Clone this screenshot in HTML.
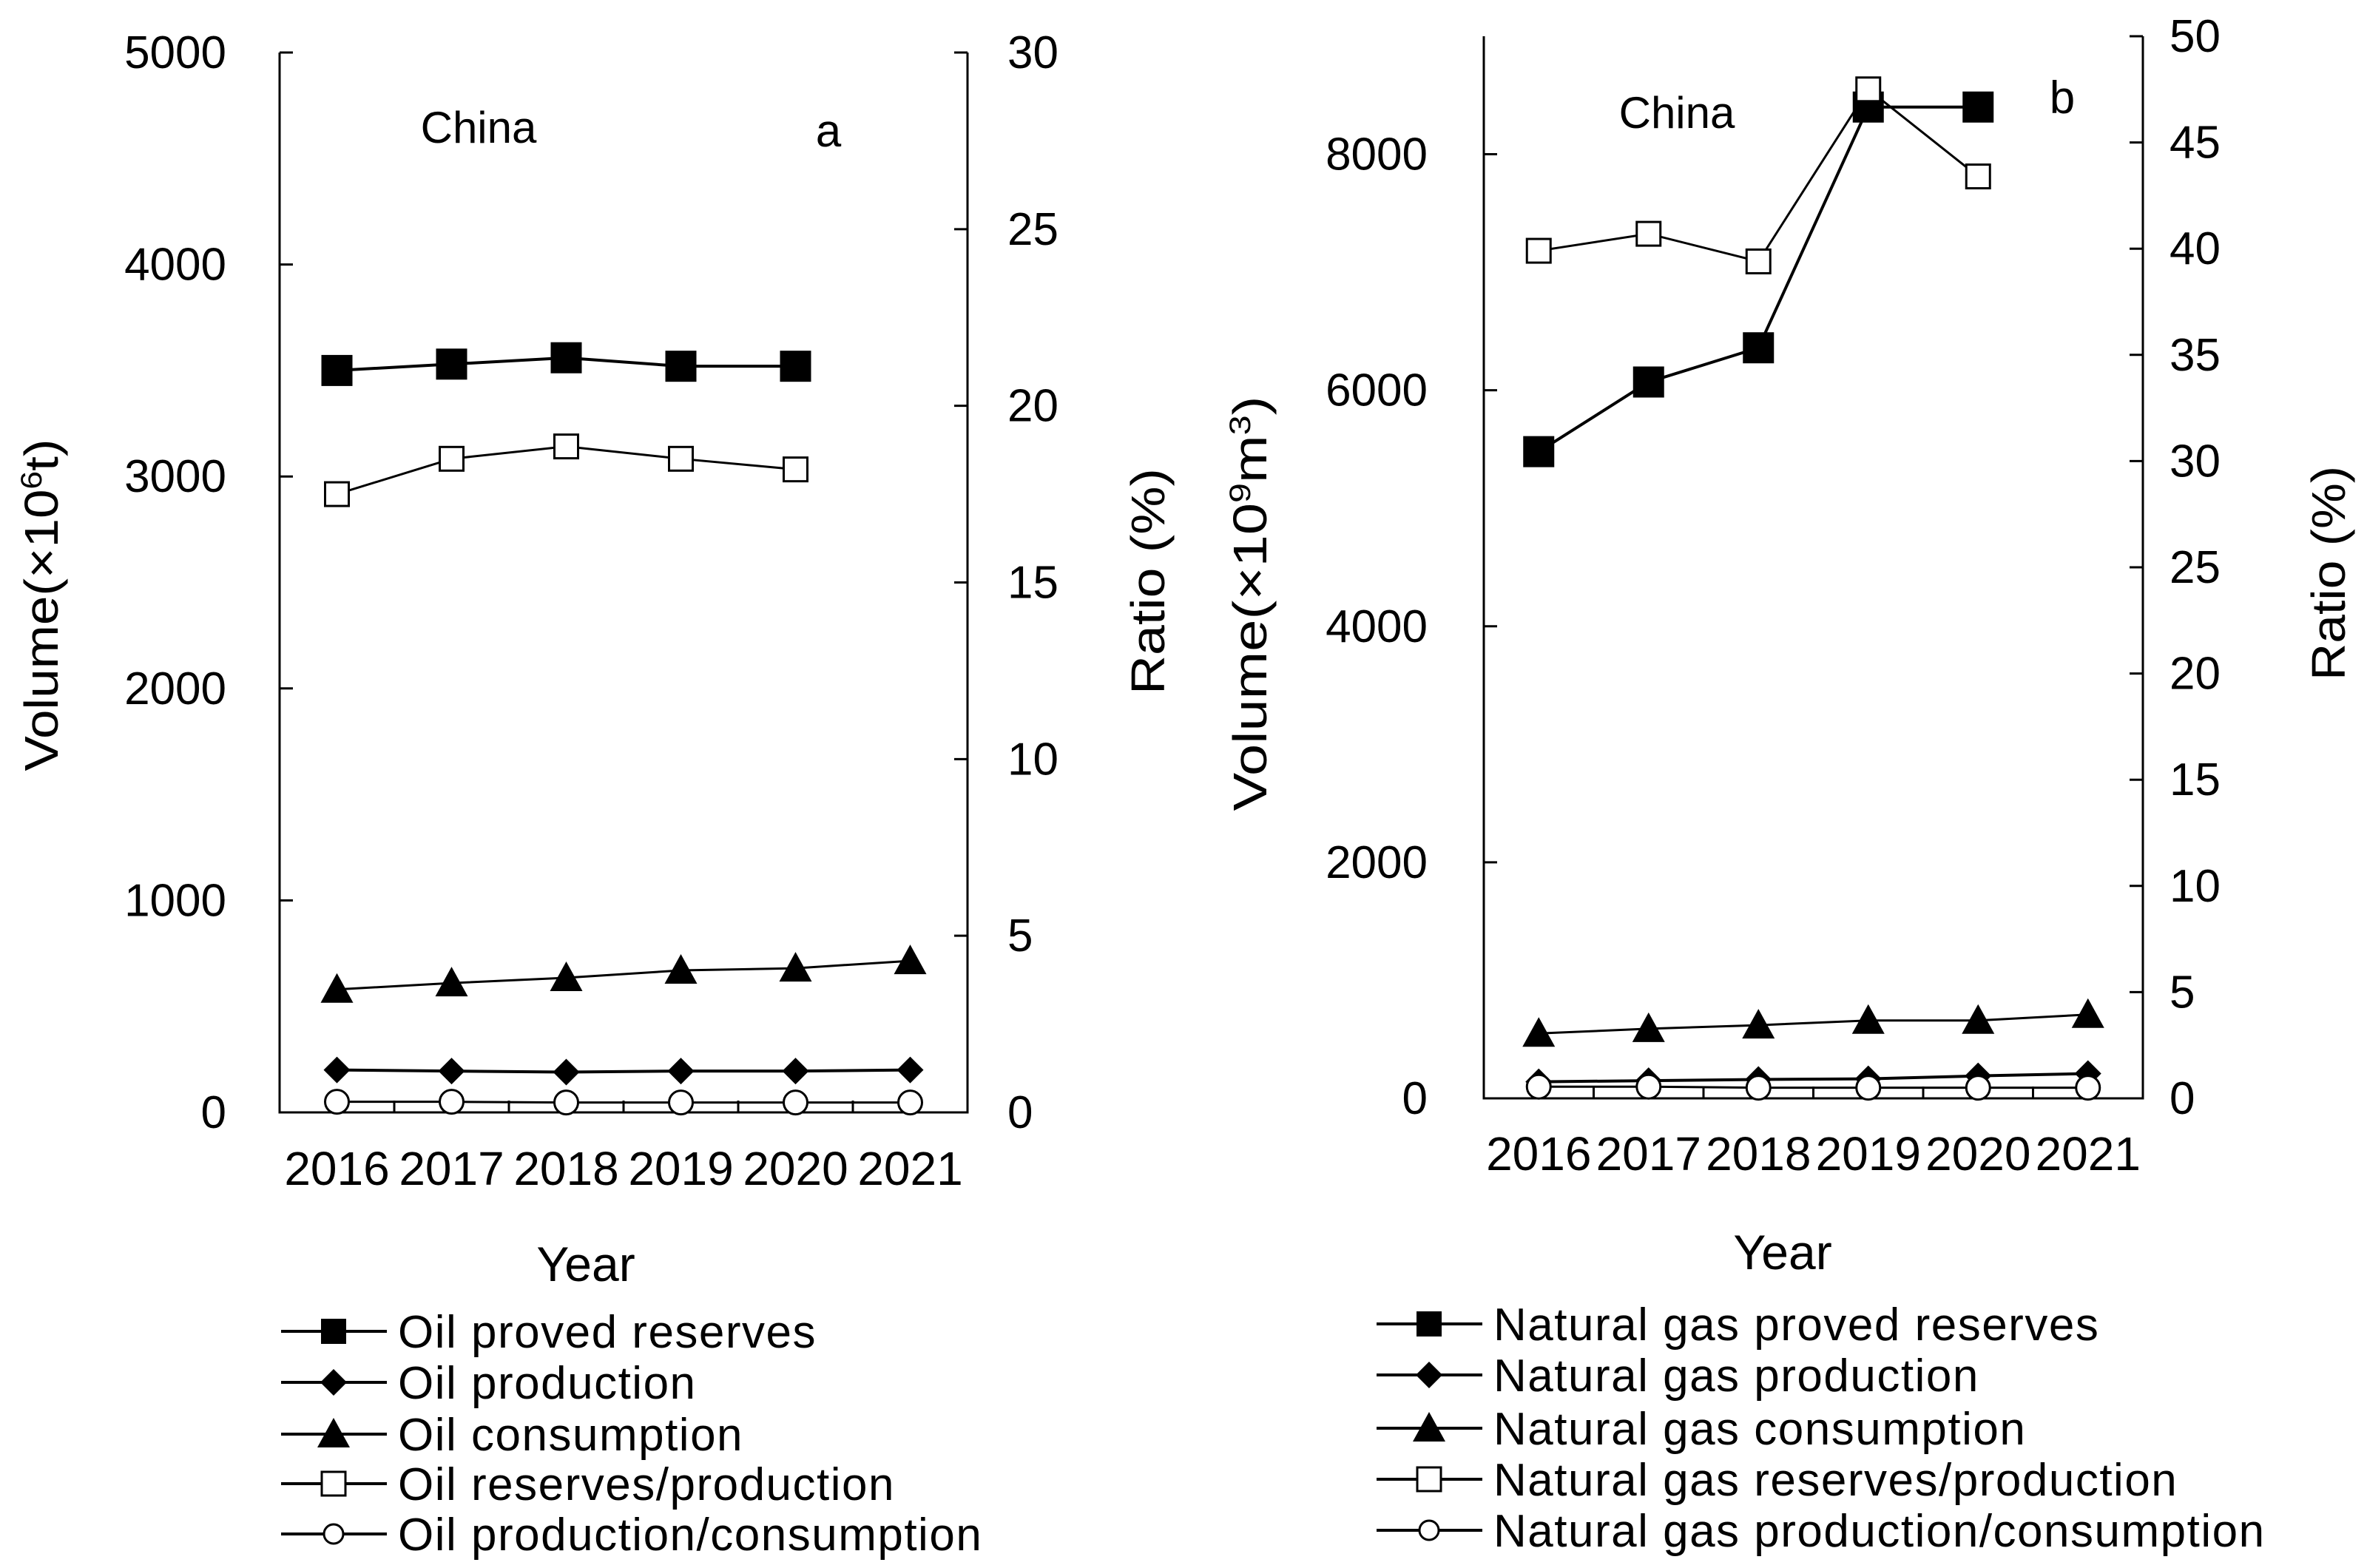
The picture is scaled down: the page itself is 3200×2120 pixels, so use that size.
<!DOCTYPE html>
<html><head><meta charset="utf-8"><style>
body{margin:0;background:#fff}
svg{display:block}
text{font-family:"Liberation Sans",Arial,sans-serif;fill:#000}
</style></head><body>
<svg id="s" width="3200" height="2120" viewBox="0 0 3200 2120" xmlns="http://www.w3.org/2000/svg"></svg>
<script>
const years = ['2016','2017','2018','2019','2020','2021'];
// Panel a (oil)
const oilReserves = [3500,3530,3560,3520,3520];
const oilProduction = [200,195,190,195,195,200];
const oilConsumption = [580,610,635,670,680,715];
const oilRP = [17.5,18.5,18.85,18.5,18.2];
const oilPC = [0.3,0.3,0.28,0.28,0.28,0.28];
const aLeftTicks = [0,1000,2000,3000,4000,5000];
const aRightTicks = [0,5,10,15,20,25,30];
// Panel b (gas)
const gasReserves = [5480,6070,6360,8400,8400];
const gasProduction = [140,150,160,165,190,210];
const gasConsumption = [550,590,620,660,660,710];
const gasRP = [39.9,40.7,39.4,47.5,43.4];
const gasPC = [0.55,0.55,0.5,0.5,0.5,0.5];
const bLeftTicks = [0,2000,4000,6000,8000];
const bRightTicks = [0,5,10,15,20,25,30,35,40,45,50];

const NS='http://www.w3.org/2000/svg';
const svg=document.getElementById('s');
function el(tag,attrs,parent){const e=document.createElementNS(NS,tag);for(const k in attrs)e.setAttribute(k,attrs[k]);(parent||svg).appendChild(e);return e;}
function txt(s,attrs,parent){const e=el('text',attrs,parent);e.textContent=s;return e;}

function marker(g,type,x,y){
  let m;
  if(type==='sq') m=el('rect',{x:x-21,y:y-21,width:42,height:42,fill:'#000'},g);
  else if(type==='osq') m=el('rect',{x:x-16,y:y-16,width:32,height:32,fill:'#fff',stroke:'#000','stroke-width':3},g);
  else if(type==='dia') m=el('path',{d:`M${x} ${y-18}L${x+18} ${y}L${x} ${y+18}L${x-18} ${y}Z`,fill:'#000'},g);
  else if(type==='tri') m=el('path',{d:`M${x} ${y-22}L${x+22} ${y+18}L${x-22} ${y+18}Z`,fill:'#000'},g);
  else m=el('circle',{cx:x,cy:y,r:16,fill:'#fff',stroke:'#000','stroke-width':3},g);
  return m;
}

function panel(p){
  const g=el('g',{});
  
  
  const {x0,x1,y0,y1,lmax,rmax}=p;
  const bw=(x1-x0)/years.length;
  const xs=i=>x0+bw*(i+0.5);
  const yl=v=>y0-(v/lmax)*(y0-y1);
  const yr=v=>y0-(v/rmax)*(y0-y1);
  const ax=el('path',{d:`M${x0} ${y1}V${y0}H${x1}V${y1}`,fill:'none',stroke:'#000','stroke-width':3},g);
  
  
  p.lt.forEach(v=>{const y=yl(v);el('line',{x1:x0,x2:x0+18,y1:y,y2:y,stroke:'#000','stroke-width':3},g);
    const t=txt(String(v),{x:p.llx,y:y+21,'font-size':62,'text-anchor':'end'},g);
    });
  p.rt.forEach(v=>{const y=yr(v);el('line',{x1:x1,x2:x1-18,y1:y,y2:y,stroke:'#000','stroke-width':3},g);
    const t=txt(String(v),{x:p.rlx,y:y+21,'font-size':62},g);
    });
  for(let i=1;i<years.length;i++){const x=x0+bw*i;el('line',{x1:x,x2:x,y1:y0,y2:y0-16,stroke:'#000','stroke-width':3},g);}
  years.forEach((yv,i)=>{const t=txt(yv,{x:xs(i),y:p.yty,'font-size':64,'text-anchor':'middle'},g);
    });
  const series=[
    {d:p.res,sc:yl,m:'sq',w:4},{d:p.rp,sc:yr,m:'osq',w:3},{d:p.cons,sc:yl,m:'tri',w:3},
    {d:p.prod,sc:yl,m:'dia',w:4},{d:p.pc,sc:yr,m:'circ',w:3}];
  const snames=['reserves','reserves-production','consumption','production','production-consumption'];
  series.forEach((s,k)=>{
    const sg=el('g',{},g);
    
    
    el('polyline',{points:s.d.map((v,i)=>xs(i)+','+s.sc(v)).join(' '),fill:'none',stroke:'#000','stroke-width':s.w},sg);
    s.d.forEach((v,i)=>{const m=marker(sg,s.m,xs(i),s.sc(v));
      
      });
  });
  const ty=txt('Year',{x:p.yearX,y:p.yearY,'font-size':66,'text-anchor':'middle'},g);
  
  const tl=el('text',{transform:`translate(${p.vtx},${p.vty}) rotate(-90)`,'font-size':64,'text-anchor':'middle',textLength:p.vlen,lengthAdjust:'spacingAndGlyphs'},g);
  tl.innerHTML=p.vlabel;
  
  const tr=txt('Ratio (%)',{transform:`translate(${p.rtx},${p.rty}) rotate(-90)`,'font-size':64,'text-anchor':'middle',textLength:p.rlen,lengthAdjust:'spacingAndGlyphs'},g);
  
  const c=txt('China',{x:p.chx,y:p.chy,'font-size':60,'text-anchor':'middle'},g);
  
  const pl=txt(p.letter,{x:p.lx,y:p.ly,'font-size':62,'text-anchor':'middle'},g);
  
  const types=['sq','dia','tri','osq','circ'];
  p.leg.forEach((name,i)=>{
    const y=p.legY[i];
    const lg=el('g',{},g);
    
    
    el('line',{x1:p.legX,x2:p.legX+143,y1:y,y2:y,stroke:'#000','stroke-width':4},lg);
    const mk=marker(lg,types[i],p.legX+71,y);
    if(types[i]==='sq'){mk.setAttribute('x',p.legX+71-17);mk.setAttribute('y',y-17);mk.setAttribute('width',34);mk.setAttribute('height',34);}
    if(types[i]==='circ'){mk.setAttribute('r',13);}
    txt(name,{x:p.legX+158,y:y+22,'font-size':62,'letter-spacing':1.5},lg);
  });
}

panel({name:'panel-a-oil',x0:378,x1:1308,y0:1504,y1:71,lmax:5000,rmax:30,lt:aLeftTicks,rt:aRightTicks,
  llx:306,rlx:1362,yty:1602,res:oilReserves,rp:oilRP,cons:oilConsumption,prod:oilProduction,pc:oilPC,
  yearX:792,yearY:1732,vtx:78,vty:818,vlen:449,vlabel:'Volume(×10<tspan dy="-22" font-size="40">6</tspan><tspan dy="22">t)</tspan>',
  rtx:1574,rty:786,rlen:306,chx:647,chy:193,letter:'a',lx:1120,ly:198,
  leg:['Oil proved reserves','Oil production','Oil consumption','Oil reserves/production','Oil production/consumption'],
  legX:380,legY:[1800,1869,1939,2006,2074]});
panel({name:'panel-b-gas',x0:2006,x1:2897,y0:1485,y1:49,lmax:9000,rmax:50,lt:bLeftTicks,rt:bRightTicks,
  llx:1930,rlx:2933,yty:1582,res:gasReserves,rp:gasRP,cons:gasConsumption,prod:gasProduction,pc:gasPC,
  yearX:2410,yearY:1716,vtx:1712,vty:816,vlen:561,vlabel:'Volume(×10<tspan dy="-22" font-size="40">9</tspan><tspan dy="22">m</tspan><tspan dy="-22" font-size="40">3</tspan><tspan dy="22">)</tspan>',
  rtx:3170,rty:775,rlen:290,chx:2267,chy:173,letter:'b',lx:2788,ly:153,
  leg:['Natural gas proved reserves','Natural gas production','Natural gas consumption','Natural gas reserves/production','Natural gas production/consumption'],
  legX:1861,legY:[1790,1859,1931,2000,2069]});
</script>
</body></html>
